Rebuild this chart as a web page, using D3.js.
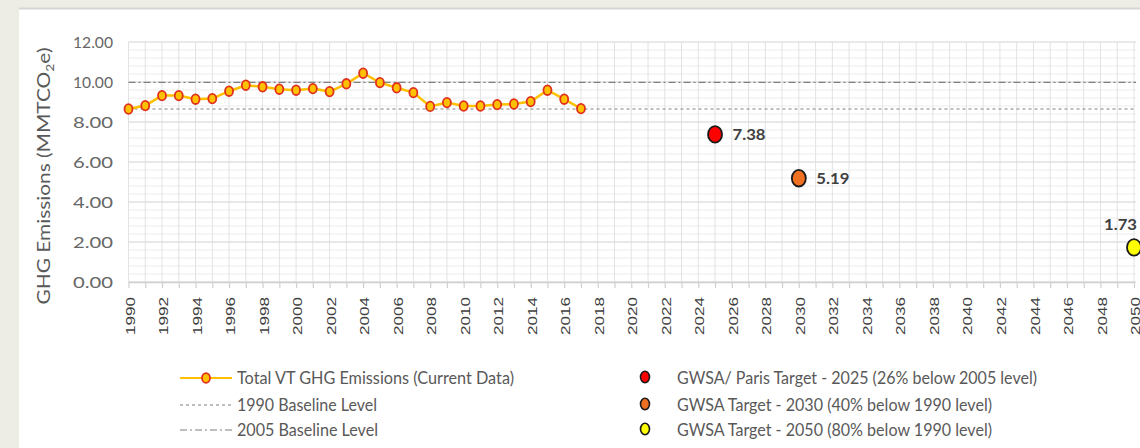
<!DOCTYPE html>
<html>
<head>
<meta charset="utf-8">
<script src="https://cdn.jsdelivr.net/npm/d3@7"></script>
<style>
  body { margin: 0; background: #eeede5; }
  #chart { width: 1140px; height: 448px; }
</style>
</head>
<body>
<div id="chart"></div>
<script>
// data
var years = [1990, 1991, 1992, 1993, 1994, 1995, 1996, 1997, 1998, 1999,
  2000, 2001, 2002, 2003, 2004, 2005, 2006, 2007, 2008, 2009,
  2010, 2011, 2012, 2013, 2014, 2015, 2016, 2017];
var emissions = [8.65, 8.82, 9.32, 9.32, 9.14, 9.17, 9.54, 9.84, 9.76, 9.64,
  9.59, 9.67, 9.52, 9.91, 10.44, 9.97, 9.71, 9.47, 8.78, 8.97,
  8.80, 8.80, 8.87, 8.90, 9.02, 9.59, 9.14, 8.67];

var targetYears = [2025, 2030, 2050];
var targetValues = [7.38, 5.19, 1.73];
var targetColors = ["#ff0000", "#f07021", "#ffff00"];
var targetLabels = ["GWSA/ Paris Target - 2025 (26% below 2005 level)",
  "GWSA Target - 2030 (40% below 1990 level)",
  "GWSA Target - 2050 (80% below 1990 level)"];

var baseline1990 = 8.65;
var baseline2005 = 9.98;

var yTicks = [0, 2, 4, 6, 8, 10, 12];
var xStart = 1990, xEnd = 2050;

var svgWidth = 1140;
var svgHeight = 448;

var margin = { top: 42, left: 128.5, right: 6, bottom: 166 };
var width = svgWidth - margin.left - margin.right;
var height = svgHeight - margin.top - margin.bottom;

var svg = d3.select("#chart")
  .append("svg")
  .attr("width", svgWidth)
  .attr("height", svgHeight);

// white panel + top rule
svg.append("rect")
  .attr("x", 19).attr("y", 8)
  .attr("width", svgWidth - 19).attr("height", svgHeight - 8)
  .attr("fill", "#ffffff");
svg.append("line")
  .attr("x1", 19).attr("x2", svgWidth)
  .attr("y1", 8.5).attr("y2", 8.5)
  .attr("stroke", "#d6d6d6").attr("stroke-width", 2);

var chartGroup = svg.append("g")
  .attr("transform", `translate(${margin.left}, ${margin.top})`);

var x = d3.scaleLinear().domain([xStart, xEnd]).range([0, width]);
var y = d3.scaleLinear().domain([0, 12]).range([height, 0]);

// minor horizontal grid
chartGroup.append("g").selectAll("line")
  .data(d3.range(0, 12.01, 0.4))
  .enter().append("line")
  .attr("x1", 0).attr("x2", width + 2)
  .attr("y1", d => y(d)).attr("y2", d => y(d))
  .attr("stroke", "#ececec").attr("stroke-width", 1);

// vertical grid, one per year
chartGroup.append("g").selectAll("line")
  .data(d3.range(xStart, xEnd + 1))
  .enter().append("line")
  .attr("x1", d => x(d)).attr("x2", d => x(d))
  .attr("y1", 0).attr("y2", height)
  .attr("stroke", "#e2e2e2").attr("stroke-width", 1);

// major horizontal grid
chartGroup.append("g").selectAll("line")
  .data(yTicks)
  .enter().append("line")
  .attr("x1", 0).attr("x2", width + 2)
  .attr("y1", d => y(d)).attr("y2", d => y(d))
  .attr("stroke", "#dcdcdc").attr("stroke-width", 1);

// x axis
var bottomAxis = d3.axisBottom(x)
  .tickValues(d3.range(xStart, xEnd + 1))
  .tickFormat(d => d % 2 === 0 ? d : "")
  .tickSizeInner(6)
  .tickSizeOuter(0);

var xAxis = chartGroup.append("g")
  .attr("transform", `translate(0, ${height})`)
  .call(bottomAxis);
xAxis.select(".domain").attr("stroke", "#d0d0d0").attr("stroke-width", 1.5);
xAxis.selectAll(".tick line").attr("stroke", "#d0d0d0").attr("stroke-width", 1.2);
xAxis.selectAll(".tick text")
  .attr("transform", "rotate(-90)")
  .attr("x", -15)
  .attr("y", 1)
  .attr("dy", "0.35em")
  .attr("text-anchor", "end")
  .attr("font-family", "Liberation Sans, Arial, sans-serif")
  .attr("font-size", 13)
  .attr("fill", "#404040")
  .attr("textLength", 38)
  .attr("lengthAdjust", "spacingAndGlyphs");

// y axis labels
var leftAxis = d3.axisLeft(y)
  .tickValues(yTicks)
  .tickFormat(d3.format(".2f"))
  .tickSize(0)
  .tickPadding(15.5);

var yAxis = chartGroup.append("g").call(leftAxis);
yAxis.select(".domain").remove();
yAxis.selectAll("text")
  .attr("font-family", "Lato, sans-serif")
  .attr("font-size", 16)
  .attr("fill", "#666666")
  .attr("textLength", 40)
  .attr("lengthAdjust", "spacingAndGlyphs");

// y title
var yTitle = svg.append("text")
  .attr("transform", "translate(50, 176) rotate(-90)")
  .attr("text-anchor", "middle")
  .attr("font-family", "Lato, sans-serif")
  .attr("font-size", 18)
  .attr("fill", "#595959")
  .attr("textLength", 257)
  .attr("lengthAdjust", "spacingAndGlyphs");
yTitle.append("tspan").text("GHG Emissions (MMTCO");
yTitle.append("tspan").attr("font-size", 12).attr("dy", 4).text("2");
yTitle.append("tspan").attr("dy", -4).text("e)");

// baseline levels
chartGroup.append("line")
  .attr("x1", 0).attr("x2", width + 2)
  .attr("y1", y(baseline1990)).attr("y2", y(baseline1990))
  .attr("stroke", "#7f7f7f").attr("stroke-width", 1.2)
  .attr("stroke-dasharray", "3,3");

chartGroup.append("line")
  .attr("x1", 0).attr("x2", width + 2)
  .attr("y1", y(baseline2005)).attr("y2", y(baseline2005))
  .attr("stroke", "#7f7f7f").attr("stroke-width", 1.2)
  .attr("stroke-dasharray", "7,3,2,3");

// emissions line
var line = d3.line()
  .x((d, i) => x(years[i]))
  .y(d => y(d));

chartGroup.append("path")
  .datum(emissions)
  .attr("d", line)
  .attr("fill", "none")
  .attr("stroke", "#ffc000")
  .attr("stroke-width", 2.5);

chartGroup.append("g").selectAll("ellipse")
  .data(emissions)
  .enter().append("ellipse")
  .attr("cx", (d, i) => x(years[i]))
  .attr("cy", d => y(d))
  .attr("rx", 4).attr("ry", 4.8)
  .attr("fill", "#ffc000")
  .attr("stroke", "#e0301e")
  .attr("stroke-width", 1.8);

// targets
chartGroup.append("g").selectAll("ellipse")
  .data(targetValues)
  .enter().append("ellipse")
  .attr("cx", (d, i) => x(targetYears[i]))
  .attr("cy", d => y(d))
  .attr("rx", 7).attr("ry", 8.3)
  .attr("fill", (d, i) => targetColors[i])
  .attr("stroke", "#1a1a1a")
  .attr("stroke-width", 1.8);

chartGroup.append("g").selectAll("text")
  .data(targetValues)
  .enter().append("text")
  .attr("x", (d, i) => i === 2 ? x(targetYears[i]) + 3 : x(targetYears[i]) + 17.5)
  .attr("y", (d, i) => i === 2 ? y(d) - 17.5 : y(d) + 6)
  .attr("text-anchor", (d, i) => i === 2 ? "end" : "start")
  .attr("font-family", "Lato, sans-serif")
  .attr("font-weight", "bold")
  .attr("font-size", 16)
  .attr("fill", "#404040")
  .attr("textLength", 33)
  .attr("lengthAdjust", "spacingAndGlyphs")
  .text(d => d.toFixed(2));

// legend
var legend = svg.append("g");
var rowY = [378, 405, 430];
var leftLabels = ["Total VT GHG Emissions (Current Data)", "1990 Baseline Level", "2005 Baseline Level"];
var leftLens = [277, 140, 141];
var rightLens = [360, 315, 315];

legend.append("line")
  .attr("x1", 180).attr("x2", 232).attr("y1", rowY[0]).attr("y2", rowY[0])
  .attr("stroke", "#ffc000").attr("stroke-width", 2);
legend.append("ellipse")
  .attr("cx", 206).attr("cy", rowY[0]).attr("rx", 4).attr("ry", 4.8)
  .attr("fill", "#ffc000").attr("stroke", "#e0301e").attr("stroke-width", 1.8);
legend.append("line")
  .attr("x1", 180).attr("x2", 232).attr("y1", rowY[1]).attr("y2", rowY[1])
  .attr("stroke", "#7f7f7f").attr("stroke-width", 1.2).attr("stroke-dasharray", "3,3");
legend.append("line")
  .attr("x1", 180).attr("x2", 232).attr("y1", rowY[2]).attr("y2", rowY[2])
  .attr("stroke", "#7f7f7f").attr("stroke-width", 1.2).attr("stroke-dasharray", "7,3,2,3");

legend.selectAll(".lt")
  .data(leftLabels)
  .enter().append("text")
  .attr("class", "lt")
  .attr("x", 237)
  .attr("y", (d, i) => rowY[i] + 6)
  .attr("font-family", "Lato, sans-serif")
  .attr("font-size", 17)
  .attr("fill", "#595959")
  .attr("textLength", (d, i) => leftLens[i])
  .attr("lengthAdjust", "spacingAndGlyphs")
  .text(d => d);

legend.selectAll(".rd")
  .data(targetColors)
  .enter().append("ellipse")
  .attr("class", "rd")
  .attr("cx", 645)
  .attr("cy", (d, i) => rowY[i] - 1)
  .attr("rx", 4.5).attr("ry", 5.8)
  .attr("fill", d => d)
  .attr("stroke", "#1a1a1a")
  .attr("stroke-width", 1.6);

legend.selectAll(".rt")
  .data(targetLabels)
  .enter().append("text")
  .attr("class", "rt")
  .attr("x", 677)
  .attr("y", (d, i) => rowY[i] + 6)
  .attr("font-family", "Lato, sans-serif")
  .attr("font-size", 17)
  .attr("fill", "#595959")
  .attr("textLength", (d, i) => rightLens[i])
  .attr("lengthAdjust", "spacingAndGlyphs")
  .text(d => d);
</script>
</body>
</html>
